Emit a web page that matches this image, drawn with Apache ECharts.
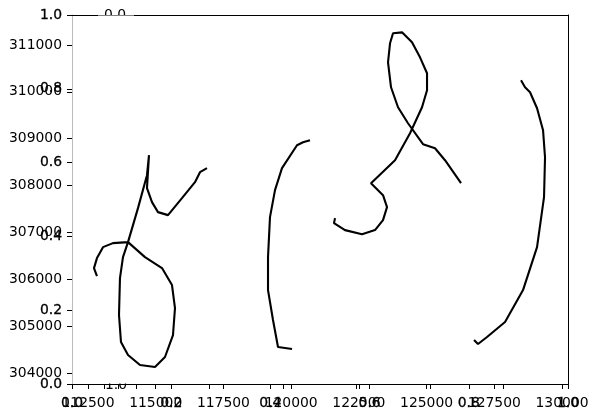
<!DOCTYPE html>
<html><head><meta charset="utf-8">
<script src="https://cdn.jsdelivr.net/npm/echarts@6/dist/echarts.min.js"></script>
<style>html,body{margin:0;padding:0;background:#fff}#c{width:596px;height:418px}</style>
</head><body><div id="c"></div>
<script>
// tick labels
const xTicks = [112500, 115000, 117500, 120000, 122500, 125000, 127500, 130000];
const yTicks = [304000, 305000, 306000, 307000, 308000, 309000, 310000, 311000];
const unitTicks = [0, 0.2, 0.4, 0.6, 0.8, 1.0];
const extraTicks = [0.57, 0.76, 1, 2, 3, 4, 5, 6];

// track 1
const t1x = [112832,112722,112832,113054,113423,113977,114604,115232,115601,115712,115638,115343,114974,114420,113977,113718,113645,113681,113792,113977,114346,114678,114752,114678,114863,115084,115454,115970,116450,116635,116893];
const t1y = [306068,306239,306452,306686,306772,306793,306473,306239,305876,305386,304810,304341,304128,304171,304384,304661,305237,306025,306473,306793,307518,308221,308648,307944,307646,307433,307369,307731,308072,308285,308371];
// track 2
const t2x = [120032,119515,119330,119146,119146,119219,119404,119662,120216,120438,120696];
const t2y = [304512,304554,305130,305770,306473,307326,307902,308371,308861,308925,308968];
// track 3
const t3x = [121619,121582,121988,122616,123096,123391,123539,123391,122948,123834,124388,124831,125016,125016,124757,124462,124093,123761,123650,123576,123687,123945,124314,124868,125311,125680,126271];
const t3y = [307305,307198,307049,306963,307049,307262,307539,307795,308051,308541,309117,309671,310034,310396,310737,311057,311270,311249,311036,310631,310098,309671,309330,308882,308797,308541,308051];
// track 4
const t4x = [128486,128634,128819,129077,129299,129372,129335,129077,128560,127896,127231,126899,126751];
const t4y = [310247,310098,309991,309650,309181,308605,307752,306686,305770,305087,304768,304618,304704];

const tracks = [[t1x,t1y],[t2x,t2y],[t3x,t3y],[t4x,t4y]];

const FONT = 'DejaVu Sans';
const FS = 13.9;
const lbl = {color:'#000', fontFamily: FONT, fontSize: FS};
const tick = {show:true, length:5, inside:false, lineStyle:{color:'#000', width:1}};

const chart = echarts.init(document.getElementById('c'), null, {renderer:'canvas'});
chart.setOption({
  animation: false,
  backgroundColor: '#fff',
  grid: {left: 72, right: 28, top: 15, bottom: 34, containLabel: false},
  xAxis: [
    {type:'value', position:'bottom', min:111910, max:130220,
     axisLine:{show:true, onZero:false, lineStyle:{color:'#000', width:1}},
     axisTick:Object.assign({customValues:xTicks}, tick),
     axisLabel:Object.assign({customValues:xTicks, margin:12, formatter:v=>String(v)}, lbl),
     splitLine:{show:false}},
    {type:'value', position:'bottom', min:0, max:1, interval:0.2,
     axisLine:{show:false},
     axisTick:Object.assign({customValues:unitTicks}, tick),
     axisLabel:Object.assign({customValues:unitTicks, margin:12, formatter:v=>v.toFixed(1), textBorderColor:'#000', textBorderWidth:0.3}, lbl),
     splitLine:{show:false}},
    {type:'value', position:'bottom', min:0.131, max:6.879,
     axisLine:{show:false},
     axisTick:Object.assign({customValues:extraTicks}, tick),
     axisLabel:{show:false}, splitLine:{show:false}},
    {type:'value', position:'top', min:0, max:1,
     axisLine:{show:true, onZero:false, lineStyle:{color:'#000', width:1}},
     axisTick:{show:false}, axisLabel:{show:false}, splitLine:{show:false}}
  ],
  yAxis: [
    {type:'value', position:'left', min:303765, max:311640,
     axisLine:{show:true, onZero:false, lineStyle:{color:'#bbbbbb', width:1}},
     axisTick:Object.assign({customValues:yTicks}, tick),
     axisLabel:Object.assign({customValues:yTicks, margin:10, formatter:v=>String(v)}, lbl),
     splitLine:{show:false}},
    {type:'value', position:'left', min:0, max:1, interval:0.2,
     axisLine:{show:false},
     axisTick:Object.assign({customValues:unitTicks}, tick),
     axisLabel:Object.assign({customValues:unitTicks, margin:10, formatter:v=>v.toFixed(1), textBorderColor:'#000', textBorderWidth:0.3}, lbl),
     splitLine:{show:false}},
    {type:'value', position:'right', min:0, max:1,
     axisLine:{show:true, onZero:false, lineStyle:{color:'#000', width:1}},
     axisTick:{show:false}, axisLabel:{show:false}, splitLine:{show:false}}
  ],
  graphic: [
    {type:'text', left:104, top:8, z:1, style:{text:'0.0', fill:'#000', font: FS+'px "'+FONT+'"'}},
    {type:'rect', shape:{x:98, y:15.6, width:36, height:12}, z:5, style:{fill:'#fff'}},
    {type:'text', left:105, top:378, z:1, style:{text:'1.0', fill:'#000', font: FS+'px "'+FONT+'"'}},
    {type:'rect', shape:{x:98, y:372, width:36, height:11.5}, z:5, style:{fill:'#fff'}}
  ],
  series: tracks.map(([xs, ys]) => ({
    type:'line', xAxisIndex:0, yAxisIndex:0,
    data: xs.map((x,i)=>[x, ys[i]]),
    showSymbol:false, symbol:'none', smooth:false, z:10,
    lineStyle:{color:'#000', width:2.1}
  }))
});
</script></body></html>
